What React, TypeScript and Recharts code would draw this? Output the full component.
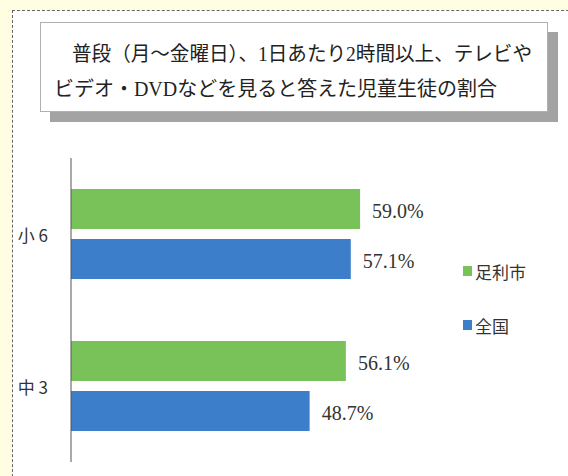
import { BarChart, Bar, XAxis, YAxis, LabelList, Legend } from 'recharts';

const grades = ['小 6', '中 3'];
const ashikagaValues = [59.0, 56.1];
const nationalValues = [57.1, 48.7];
const seriesNames = ['足利市', '全国'];
const titleLines = [
  '普段（月～金曜日）、1日あたり2時間以上、テレビや',
  'ビデオ・DVDなどを見ると答えた児童生徒の割合',
];

const GREEN = '#79c25a';
const BLUE = '#3c7ec9';
const TEXT = '#333';

const data = grades.map((grade, i) => ({
  grade,
  ashikaga: ashikagaValues[i],
  national: nationalValues[i],
}));

const renderValueLabel = (props: any) => {
  const { x, y, width, height, value } = props;
  return (
    <text
      x={Number(x) + Number(width) + 12}
      y={Number(y) + Number(height) / 2 + 2}
      dominantBaseline="central"
      fill={TEXT}
      fontSize={20}
      fontFamily="'Liberation Serif', serif"
    >
      {Number(value).toFixed(1)}%
    </text>
  );
};

const GradeTick = (props: any) => {
  const { x, y, payload } = props;
  return (
    <text
      x={x}
      y={y}
      textAnchor="end"
      dominantBaseline="central"
      fill={TEXT}
      fontSize={17}
      fontFamily="'Noto Sans CJK JP', sans-serif"
    >
      {payload.value}
    </text>
  );
};

const renderLegend = (props: any) => {
  // keep the series order (recharts sorts legend items by name otherwise)
  const items = [...(props.payload || [])].sort(
    (a: any, b: any) => seriesNames.indexOf(a.value) - seriesNames.indexOf(b.value)
  );
  return (
    <svg width={100} height={90}>
      {items.map((item: any, i: number) => (
        <g key={item.value}>
          <rect x={3} y={11 + i * 54} width={9} height={10} fill={item.color} />
          <text
            x={15}
            y={16 + i * 54}
            dominantBaseline="central"
            fill={TEXT}
            fontSize={17}
            fontFamily="'Noto Sans CJK JP', sans-serif"
          >
            {item.value}
          </text>
        </g>
      ))}
    </svg>
  );
};

export default function App() {
  return (
    <div
      style={{
        position: 'relative',
        width: 568,
        height: 476,
        overflow: 'hidden',
        background: '#fffde2',
      }}
    >
      <style>{'body{margin:0}'}</style>
      {/* dashed outer panel */}
      <div
        style={{
          position: 'absolute',
          left: 12,
          top: 10,
          width: 600,
          height: 520,
          background: '#fff',
          border: '1px dashed #666',
        }}
      />
      {/* title box with drop shadow */}
      <div
        style={{
          position: 'absolute',
          left: 40,
          top: 22,
          width: 506,
          height: 88,
          background: '#fff',
          border: '1px solid #b0b0b0',
          boxShadow: '10px 10px 0 #a3a3a3',
        }}
      />
      <svg
        width={568}
        height={130}
        style={{ position: 'absolute', left: 0, top: 0 }}
      >
        <text
          x={72}
          y={54}
          dominantBaseline="central"
          textLength={460}
          lengthAdjust="spacingAndGlyphs"
          fontSize={20}
          fill="#222"
          fontFamily="'Liberation Serif', 'Noto Sans CJK JP', serif"
        >
          {titleLines[0]}
        </text>
        <text
          x={54}
          y={89}
          dominantBaseline="central"
          textLength={443}
          lengthAdjust="spacingAndGlyphs"
          fontSize={20}
          fill="#222"
          fontFamily="'Liberation Serif', 'Noto Sans CJK JP', serif"
        >
          {titleLines[1]}
        </text>
      </svg>
      <BarChart
        layout="vertical"
        width={568}
        height={476}
        data={data}
        margin={{ top: 158, right: 5, bottom: 14, left: 11 }}
        barSize={40}
        barGap={10}
        style={{ position: 'absolute', left: 0, top: 0 }}
      >
        <XAxis type="number" domain={[0, 80]} hide />
        <YAxis
          type="category"
          dataKey="grade"
          width={60}
          axisLine={{ stroke: '#555' }}
          tickLine={false}
          tick={<GradeTick />}
          tickMargin={17}
        />
        <Legend
          layout="vertical"
          align="right"
          verticalAlign="middle"
          content={renderLegend}
          wrapperStyle={{ left: 460, top: 255, width: 100, height: 90, right: 'auto', bottom: 'auto' }}
        />
        <Bar dataKey="ashikaga" name={seriesNames[0]} fill={GREEN} isAnimationActive={false}>
          <LabelList dataKey="ashikaga" content={renderValueLabel} />
        </Bar>
        <Bar dataKey="national" name={seriesNames[1]} fill={BLUE} isAnimationActive={false}>
          <LabelList dataKey="national" content={renderValueLabel} />
        </Bar>
      </BarChart>
    </div>
  );
}
